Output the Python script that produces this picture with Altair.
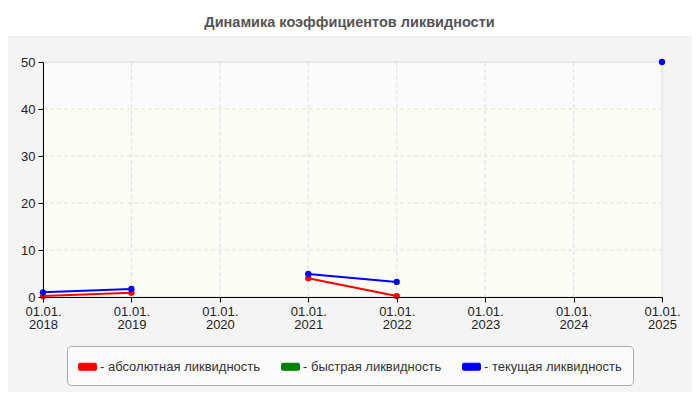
import altair as alt
import pandas as pd

# ---- data ----
years = [2018, 2019, 2020, 2021, 2022, 2023, 2024, 2025]
series_names = ["абсолютная ликвидность", "быстрая ликвидность", "текущая ликвидность"]
series_colors = ["#ff0000", "#008000", "#0000ff"]
absolute = [0.2, 0.9, None, 4.0, 0.2, None, None, None]
quick = [None, None, None, None, None, None, None, None]
current = [1.0, 1.7, None, 4.9, 3.2, None, None, 50.0]
y_ticks = [0, 10, 20, 30, 40, 50]
band_low = [0, 40]
band_high = [40, 50]
band_fill = ["#fcfcf6", "#fafafa"]

rows = []
for name, vals in zip(series_names, [absolute, quick, current]):
    for y, v in zip(years, vals):
        rows.append({"year": y, "value": v, "series": name})
df = pd.DataFrame(rows)
bands = pd.DataFrame({"lo": band_low, "hi": band_high, "fill": band_fill})
xgrid = pd.DataFrame({"year": years[1:-1]})
ygrid = pd.DataFrame({"v": y_ticks[1:-1]})

FONT = "Liberation Sans"
W, H = 619, 235

xscale = alt.Scale(domain=[2018, 2025], nice=False, zero=False)
yscale = alt.Scale(domain=[0, 50], nice=False)
cscale = alt.Scale(domain=series_names, range=series_colors)

panel = alt.Chart(pd.DataFrame({"p": [0]})).mark_rect(
    fill="#f4f4f4", stroke="#e2e2e2", strokeWidth=1, cornerRadius=8
).encode(
    x=alt.value(-41), x2=alt.value(654), y=alt.value(-25), y2=alt.value(334)
)

band = alt.Chart(bands).mark_rect().encode(
    y=alt.Y("lo:Q", scale=yscale),
    y2="hi:Q",
    x=alt.value(0),
    x2=alt.value(W),
    fill=alt.Fill("fill:N", scale=None),
)

vgrid = alt.Chart(xgrid).mark_rule(color="#dddddd", strokeDash=[4, 3], strokeWidth=1).encode(
    x=alt.X("year:Q", scale=xscale), y=alt.value(0), y2=alt.value(H)
)
hgrid = alt.Chart(ygrid).mark_rule(color="#dddddd", strokeDash=[4, 3], strokeWidth=1).encode(
    y=alt.Y("v:Q", scale=yscale), x=alt.value(0), x2=alt.value(W)
)
frame = alt.Chart(pd.DataFrame({"p": [0]})).mark_rect(
    fillOpacity=0, stroke="#dddddd", strokeWidth=1
).encode(x=alt.value(0), x2=alt.value(W), y=alt.value(0), y2=alt.value(H))

base = alt.Chart(df)

lines = base.mark_line(strokeWidth=2, invalid="break-paths-show-domains").encode(
    x=alt.X("year:Q", scale=xscale,
            axis=alt.Axis(values=years, labelExpr="['01.01.', toString(datum.value)]",
                          title=None, grid=False, zindex=2,
                          domainColor="#000000", tickColor="#000000", tickSize=5,
                          labelFont=FONT, labelFontSize=13, labelColor="#222222",
                          labelLineHeight=13.5, labelPadding=3, labelFlush=False,
                          labelOverlap=False)),
    y=alt.Y("value:Q", scale=yscale,
            axis=alt.Axis(values=y_ticks, title=None, grid=False, zindex=2,
                          domainColor="#000000", tickColor="#000000", tickSize=5,
                          labelFont=FONT, labelFontSize=13, labelColor="#222222",
                          labelPadding=3)),
    stroke=alt.Stroke("series:N", scale=cscale, legend=None),
    detail="series:N",
)

points = base.mark_point(filled=True, size=40, opacity=1).encode(
    x=alt.X("year:Q", scale=xscale),
    y=alt.Y("value:Q", scale=yscale),
    fill=alt.Fill("series:N", scale=cscale,
                  legend=alt.Legend(
                      title=None, orient="none", legendX=24, legendY=284,
                      direction="horizontal", columns=3, columnPadding=18,
                      symbolType="M-0.85,-0.39 L0.85,-0.39 Q1,-0.39 1,-0.24 L1,0.24 Q1,0.39 0.85,0.39 L-0.85,0.39 Q-1,0.39 -1,0.24 L-1,-0.24 Q-1,-0.39 -0.85,-0.39 Z",
                      symbolSize=324, symbolStrokeWidth=1, symbolStrokeColor="#555555",
                      symbolOpacity=1,
                      labelExpr="'- ' + datum.label", labelFont=FONT, labelFontSize=13,
                      labelColor="#333333", labelOffset=3, labelLimit=400,
                      fillColor="#fafafa", strokeColor="#aaaaaa", cornerRadius=4,
                      padding=11)),
)

chart = alt.layer(panel, band, vgrid, hgrid, frame, lines, points).properties(
    width=W, height=H,
    title=alt.Title("Динамика коэффициентов ликвидности", font=FONT, fontSize=14.5,
                    fontWeight="bold", color="#555555", anchor="middle", offset=6, dx=-3),
    autosize=alt.AutoSizeParams(type="none"),
    padding={"left": 35, "top": 54, "right": 30, "bottom": 95},
).configure_view(stroke=None).configure(background="#ffffff")

chart.save("out.html", embed_options={"renderer": "svg", "actions": False})
